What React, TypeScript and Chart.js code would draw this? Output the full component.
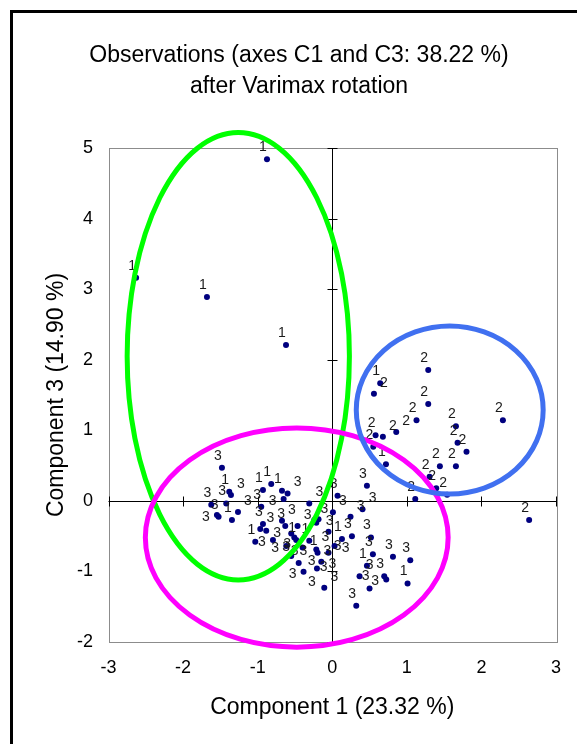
import React, { useEffect, useRef } from "react";
import { Chart, registerables } from "chart.js";

Chart.register(...registerables);

// ---------- text ----------
const titleLines = ["Observations (axes C1 and C3: 38.22 %)", "after Varimax rotation"];
const xAxisTitle = "Component 1 (23.32 %)";
const yAxisTitle = "Component 3 (14.90 %)";

// ---------- ticks ----------
const xTickValues = [-3, -2, -1, 0, 1, 2, 3];
const yTickValues = [-2, -1, 0, 1, 2, 3, 4, 5];

// ---------- observations (group labels 1, 2, 3) ----------
const groupNames = ["1", "2", "3"];

const group1X = [-0.875, -2.63, -1.68, -0.62, 0.643, 0.72, -1.381, -1.345, -0.929, -0.818, -0.674, -1.032, -0.483, -0.308, 0.13, -0.197, 0.465, 1.01];
const group1Y = [4.84, 3.16, 2.89, 2.21, 1.666, 0.517, 0.129, -0.273, 0.153, 0.238, 0.143, -0.58, -0.556, -0.566, -0.542, -0.736, -0.92, -1.17];

const group2X = [1.287, 0.559, 1.287, 1.13, 2.288, 1.658, 0.581, 0.679, 0.858, 1.68, 1.8, 0.55, 1.443, 1.658, 1.305, 1.394, 1.54, 1.113, 2.64];
const group2Y = [1.855, 1.519, 1.373, 1.142, 1.142, 1.057, 0.929, 0.909, 0.976, 0.824, 0.697, 0.768, 0.489, 0.489, 0.342, 0.177, 0.086, 0.025, -0.27];

const group3X = [-1.479, -1.358, -1.421, -1.622, -1.546, -1.524, -1.264, -0.599, -0.652, -0.952, -0.308, -0.929, -0.965, -0.885, -0.674, -0.63, -0.795, -0.465, -0.55, -0.509, -0.617, -0.398, -0.241, -0.184, -0.214, -0.05, 0.264, 0.519, 0.009, 0.245, 0.406, -0.214, -0.05, 0.031, -0.147, -0.205, -0.107, 0.545, 0.814, 1.046, 0.366, 0.697, 0.724, 0.5, 0.322, -0.385, 0.465, 0.071, -0.55, -0.45];
const group3Y = [0.47, 0.082, -0.036, -0.055, -0.201, -0.226, -0.159, 0.106, 0.026, -0.084, -0.036, -0.329, -0.4, -0.424, -0.282, -0.357, -0.556, -0.357, -0.461, -0.518, -0.641, -0.66, -0.273, -0.262, -0.311, -0.438, -0.5, -0.518, -0.163, -0.225, -0.12, -0.688, -0.736, -0.641, -0.864, -0.957, -1.233, -0.755, -0.793, -0.84, -1.067, -1.067, -1.114, -1.241, -1.488, -1.006, 0.214, 0.072, -0.78, -0.88];

// ---------- group ellipses (data units) ----------
const ellipseCenterX = [-1.26, -0.476, 1.575];
const ellipseCenterY = [2.05, -0.52, 1.288];
const ellipseRadiusX = [1.49, 2.03, 1.253];
const ellipseRadiusY = [3.17, 1.553, 1.19];

// ---------- styles ----------
const FONT = "'Liberation Sans', Arial, Helvetica, sans-serif";
const ellipseColors = ["#00ff00", "#ff00ff", "#4070f0"];
const POINT_COLOR = "#00007f";

const toPoints = (xs: number[], ys: number[]) => xs.map((x, i) => ({ x, y: ys[i] }));

const axesPlugin = {
  id: "excelAxes",
  beforeDatasetsDraw(chart: any) {
    const { ctx, chartArea, scales } = chart;
    const x = scales.x;
    const y = scales.y;
    ctx.save();
    ctx.strokeStyle = "#8c8c8c";
    ctx.lineWidth = 1;
    ctx.strokeRect(
      Math.round(chartArea.left) + 0.5,
      Math.round(chartArea.top) + 0.5,
      Math.round(chartArea.right - chartArea.left),
      Math.round(chartArea.bottom - chartArea.top)
    );
    const x0 = Math.round(x.getPixelForValue(0)) + 0.5;
    const y0 = Math.round(y.getPixelForValue(0)) + 0.5;
    ctx.strokeStyle = "#000";
    ctx.lineWidth = 1;
    ctx.beginPath();
    ctx.moveTo(chartArea.left, y0);
    ctx.lineTo(chartArea.right, y0);
    ctx.moveTo(x0, chartArea.top);
    ctx.lineTo(x0, chartArea.bottom);
    xTickValues.forEach((v) => {
      const px = Math.round(x.getPixelForValue(v)) + 0.5;
      ctx.moveTo(px, y0 - 5);
      ctx.lineTo(px, y0 + 5);
    });
    yTickValues.forEach((v) => {
      const py = Math.round(y.getPixelForValue(v)) + 0.5;
      ctx.moveTo(x0 - 5, py);
      ctx.lineTo(x0 + 5, py);
    });
    ctx.stroke();
    ctx.restore();
  },
};

const labelPlugin = {
  id: "pointLabels",
  afterDatasetsDraw(chart: any) {
    const { ctx } = chart;
    ctx.save();
    ctx.font = `14px ${FONT}`;
    ctx.fillStyle = "#1a1a1a";
    ctx.textAlign = "center";
    ctx.textBaseline = "middle";
    const placed: { l: number; r: number; t: number; b: number }[] = [];
    const candidates = [
      [-4, -12],
      [10, -11],
      [-11, 2],
      [11, 2],
      [-5, 14],
      [9, 14],
    ];
    chart.data.datasets.forEach((ds: any, di: number) => {
      const meta = chart.getDatasetMeta(di);
      const text = groupNames[di];
      const w = ctx.measureText(text).width;
      const h = 11;
      meta.data.forEach((el: any) => {
        let chosen = candidates[0];
        for (const c of candidates) {
          const box = { l: el.x + c[0] - w / 2, r: el.x + c[0] + w / 2, t: el.y + c[1] - h / 2, b: el.y + c[1] + h / 2 };
          const hit = placed.some((p) => box.l < p.r && box.r > p.l && box.t < p.b && box.b > p.t);
          if (!hit) {
            chosen = c;
            break;
          }
        }
        const lx = el.x + chosen[0];
        const ly = el.y + chosen[1];
        placed.push({ l: lx - w / 2, r: lx + w / 2, t: ly - h / 2, b: ly + h / 2 });
        ctx.fillText(text, lx, ly);
      });
    });
    ctx.restore();
  },
};

const ellipsePlugin = {
  id: "groupEllipses",
  afterDraw(chart: any) {
    const { ctx, scales } = chart;
    const x = scales.x;
    const y = scales.y;
    ctx.save();
    ctx.lineWidth = 5;
    ellipseCenterX.forEach((cx, i) => {
      const pcx = x.getPixelForValue(cx);
      const pcy = y.getPixelForValue(ellipseCenterY[i]);
      const rx = Math.abs(x.getPixelForValue(cx + ellipseRadiusX[i]) - pcx);
      const ry = Math.abs(y.getPixelForValue(ellipseCenterY[i] + ellipseRadiusY[i]) - pcy);
      ctx.strokeStyle = ellipseColors[i];
      ctx.beginPath();
      ctx.ellipse(pcx, pcy, rx, ry, 0, 0, Math.PI * 2);
      ctx.stroke();
    });
    ctx.restore();
  },
};

export default function App() {
  const canvasRef = useRef<HTMLCanvasElement | null>(null);

  useEffect(() => {
    if (!canvasRef.current) return;
    const pointStyle = {
      backgroundColor: POINT_COLOR,
      borderColor: POINT_COLOR,
      pointRadius: 3,
      pointHoverRadius: 3,
      borderWidth: 0,
    };
    const chart = new Chart(canvasRef.current, {
      type: "scatter",
      data: {
        datasets: [
          { label: groupNames[0], data: toPoints(group1X, group1Y), ...pointStyle },
          { label: groupNames[1], data: toPoints(group2X, group2Y), ...pointStyle },
          { label: groupNames[2], data: toPoints(group3X, group3Y), ...pointStyle },
        ],
      },
      options: {
        animation: false,
        responsive: false,
        maintainAspectRatio: false,
        devicePixelRatio: 1,
        layout: { padding: { left: 42, right: 21, top: 0, bottom: 12 } },
        plugins: {
          legend: { display: false },
          tooltip: { enabled: false },
          title: {
            display: true,
            text: titleLines,
            color: "#000",
            font: { family: FONT, size: 23, weight: "normal", lineHeight: 31 / 23 },
            padding: { top: 40, bottom: 46 },
          },
        },
        scales: {
          x: {
            type: "linear",
            min: -3,
            max: 3,
            afterBuildTicks: (s: any) => {
              s.ticks = xTickValues.map((v) => ({ value: v }));
            },
            afterFit: (s: any) => {
              s.height = 90;
            },
            grid: { display: false, drawTicks: false },
            border: { display: false },
            ticks: { color: "#000", font: { family: FONT, size: 18 }, padding: 15 },
            title: {
              display: true,
              text: xAxisTitle,
              color: "#000",
              font: { family: FONT, size: 23 },
              padding: { top: 0, bottom: 11 },
            },
          },
          y: {
            type: "linear",
            min: -2,
            max: 5,
            afterBuildTicks: (s: any) => {
              s.ticks = yTickValues.map((v) => ({ value: v }));
            },
            afterFit: (s: any) => {
              s.width = 66.5;
            },
            grid: { display: false, drawTicks: false },
            border: { display: false },
            ticks: { color: "#000", font: { family: FONT, size: 18 }, padding: 15.5 },
            title: {
              display: true,
              text: yAxisTitle,
              color: "#000",
              font: { family: FONT, size: 23 },
              padding: { top: 1.2, bottom: 0 },
            },
          },
        },
      } as any,
      plugins: [axesPlugin, labelPlugin, ellipsePlugin],
    });
    return () => chart.destroy();
  }, []);

  return (
    <div
      style={{
        position: "fixed",
        left: 0,
        top: 0,
        width: 577,
        height: 744,
        overflow: "hidden",
        background: "#fff",
      }}
    >
      <div
        style={{
          position: "absolute",
          left: 10,
          top: 10,
          width: 640,
          height: 800,
          border: "3px solid #000",
        }}
      />
      <canvas
        ref={canvasRef}
        width={577}
        height={744}
        style={{ position: "absolute", left: 0, top: 0, width: 577, height: 744 }}
      />
    </div>
  );
}
